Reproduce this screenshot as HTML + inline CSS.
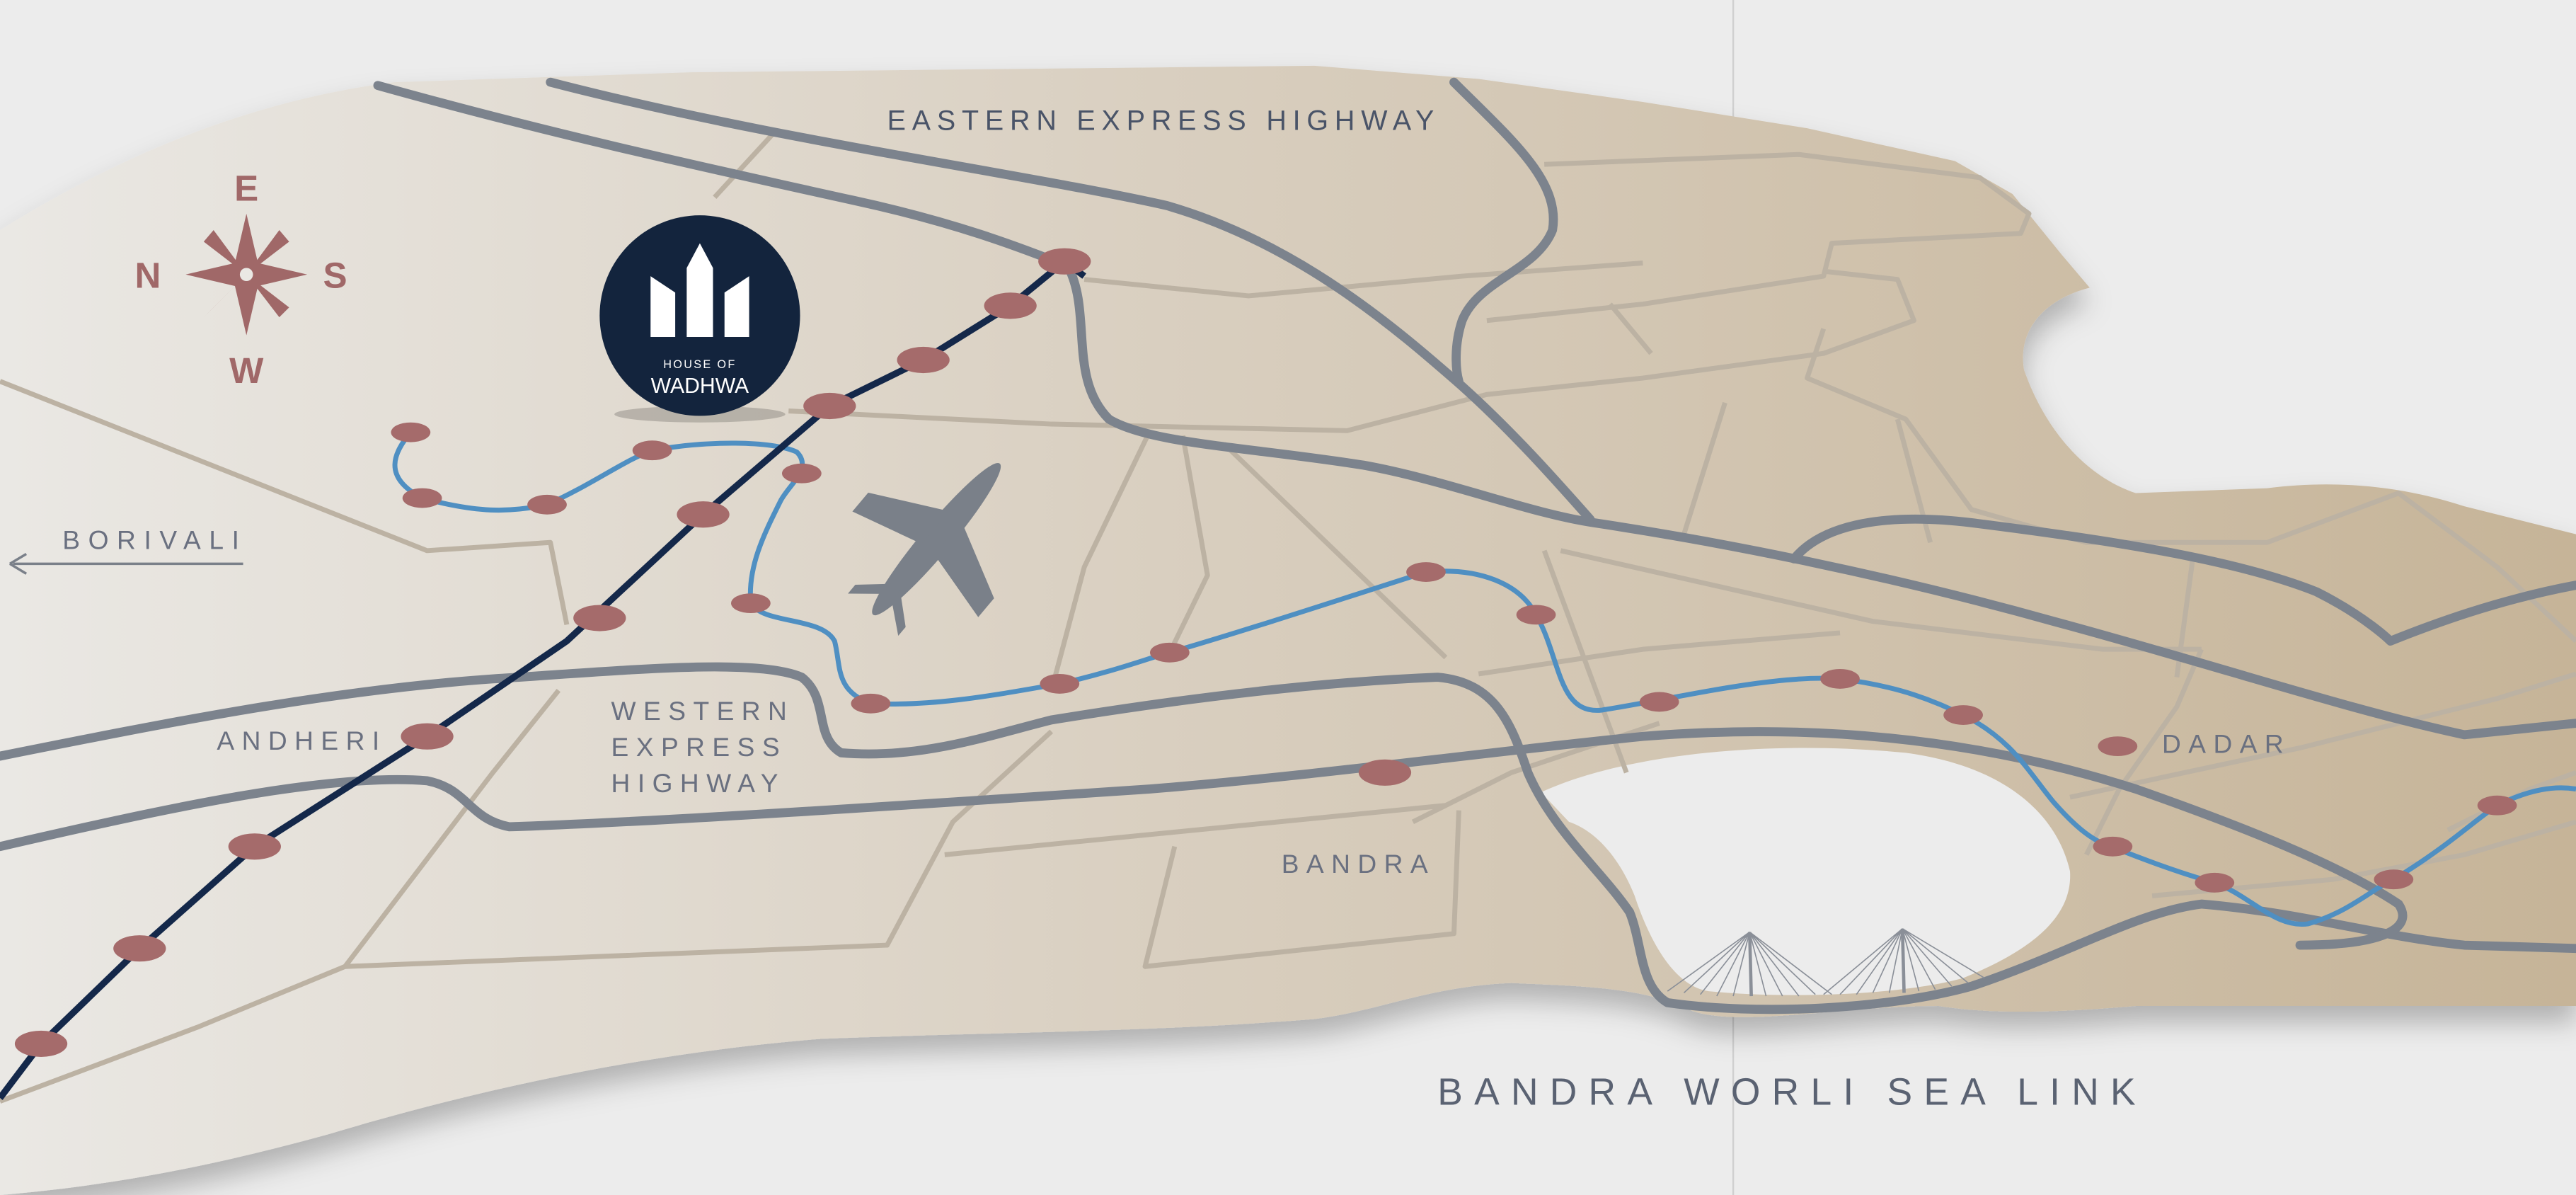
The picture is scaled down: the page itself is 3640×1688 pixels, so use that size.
<!DOCTYPE html>
<html><head><meta charset="utf-8"><style>
html,body{margin:0;padding:0;background:#ececec;}
svg{display:block;}
text{font-family:"Liberation Sans",sans-serif;}
</style></head><body>
<svg width="3640" height="1688" viewBox="0 0 1568 727" preserveAspectRatio="none" xmlns="http://www.w3.org/2000/svg">
<defs>
<linearGradient id="land" x1="0" x2="1" y1="0" y2="0">
<stop offset="0" stop-color="#eae8e4"/><stop offset="0.45" stop-color="#d9cfc0"/><stop offset="1" stop-color="#c6b498"/>
</linearGradient>
<filter id="sh" x="-5%" y="-5%" width="110%" height="120%"><feDropShadow dx="0" dy="10" stdDeviation="8" flood-color="#000" flood-opacity="0.25"/></filter>
</defs>
<rect width="1568" height="727" fill="#ececec"/>
<line x1="1055" y1="0" x2="1055" y2="727" stroke="#d0d0d0" stroke-width="1"/>
<path filter="url(#sh)" fill="url(#land)" d="M0,140 C80,90 160,60 240,50 L420,44 L800,40 L900,48 L1000,62 L1100,78 L1190,98 L1225,118 L1255,155 L1272,175 C1245,182 1228,200 1232,225 C1245,262 1270,290 1300,300 L1380,297 C1420,292 1460,295 1500,308 L1568,325 L1568,612 L1300,612 C1230,618 1200,615 1180,612 C1120,612 1060,625 1030,615 C1000,600 960,600 920,598 C870,600 840,615 800,620 C700,628 600,628 500,632 C400,640 300,660 200,690 C120,712 60,722 0,727 Z"/>
<path fill="#ececec" d="M938,482 C990,458 1080,450 1160,458 C1220,466 1252,495 1260,530 C1262,560 1232,580 1195,595 C1160,605 1090,608 1040,603 C1020,600 1005,575 995,545 C985,520 970,505 955,500 Z"/>
<g fill="none" stroke="#bcb2a3" stroke-width="3" stroke-linejoin="round">
<path d="M0,232 L260,335 L335,330 L345,380"/>
<path d="M0,670 L120,625 L210,588 L300,470 L340,420"/>
<path d="M210,588 L540,575 L580,500 L640,445"/>
<path d="M575,520 L880,490"/>
<path d="M715,515 L697,588 L885,568 L888,493"/>
<path d="M470,82 L435,120"/>
<path d="M480,250 L640,258 L820,262 L905,240 L1000,230 L1110,215 L1165,195 L1155,170 L1110,165"/>
<path d="M660,170 L760,180 L890,168 L1000,160"/>
<path d="M700,262 L660,345 L640,420"/>
<path d="M720,265 L735,350 L712,397"/>
<path d="M745,270 L880,400"/>
<path d="M905,195 L1000,185 L1110,168 L1115,148 L1230,142 L1235,130 L1205,108 L1095,94 L940,100"/>
<path d="M980,185 L1005,215"/>
<path d="M1110,200 L1100,230 L1160,255 L1200,310 L1270,330 L1380,330 L1460,300 L1520,345 L1568,390"/>
<path d="M1050,245 L1025,325"/>
<path d="M1155,255 L1175,330"/>
<path d="M940,335 L990,470"/>
<path d="M950,335 L1140,378 L1280,395 L1340,395"/>
<path d="M900,410 L1000,395 L1120,385"/>
<path d="M860,500 L920,470 L1010,440"/>
<path d="M1340,395 L1325,430 L1290,480 L1270,520"/>
<path d="M1335,338 L1325,412"/>
<path d="M1260,485 L1400,455 L1520,425 L1568,410"/>
<path d="M1490,505 L1540,480 L1568,470"/>
<path d="M1310,545 L1420,535 L1500,520 L1568,500"/>
</g>
<g fill="none" stroke="#7c838d" stroke-width="5.5" stroke-linecap="round" stroke-linejoin="round">
<path d="M230,52 C330,80 420,100 520,122 C580,135 620,150 650,162 C665,190 650,230 675,255 C700,270 760,272 830,283 C880,292 930,312 970,318 C1050,330 1150,350 1250,378 C1350,405 1430,432 1500,447 L1568,440"/>
<path d="M335,50 C470,85 620,105 710,125 C790,148 850,200 890,235 C920,262 945,290 968,316"/>
<path d="M885,50 C920,85 950,110 945,140 C935,165 900,170 890,195 C885,210 886,225 888,232"/>
<path d="M0,460 C100,440 200,420 300,413 C380,408 460,400 488,412 C505,425 495,448 512,458 C560,462 600,448 640,438 C720,425 800,415 875,412 C910,415 920,440 930,470 C945,505 975,530 992,555 C1000,575 998,600 1015,610 C1070,618 1150,614 1200,600 C1260,580 1300,555 1340,550 C1400,555 1450,570 1500,575 L1568,577"/>
<path d="M0,515 C100,492 200,470 260,475 C285,480 285,498 310,503 C400,500 550,490 700,480 C800,472 900,458 1000,448 C1100,440 1200,448 1300,480 C1380,508 1430,530 1460,550 C1470,565 1450,575 1400,575"/>
<path d="M1092,340 C1110,318 1150,312 1200,318 C1280,328 1360,340 1410,360 C1440,375 1455,390 1455,390 C1480,380 1520,365 1568,356"/>
</g>
<g stroke="#8a8f98" stroke-width="0.7" fill="none">
<path d="M1065,567 L1015,603 M1065,567 L1025,604 M1065,567 L1035,605 M1065,567 L1045,606 M1065,567 L1055,606 M1065,567 L1075,606 M1065,567 L1085,606 M1065,567 L1095,606 M1065,567 L1105,605 M1065,567 L1115,605"/>
<path d="M1158,565 L1110,605 M1158,565 L1120,605 M1158,565 L1130,605 M1158,565 L1140,604 M1158,565 L1150,604 M1158,565 L1168,603 M1158,565 L1178,602 M1158,565 L1188,600 M1158,565 L1198,598 M1158,565 L1208,595"/>
<path d="M1065,567 L1066,606 M1158,565 L1159,604" stroke-width="2"/>
</g>
<path fill="none" stroke="#4f8fc2" stroke-width="3" stroke-linejoin="round" d="M250,263 C240,275 232,290 257,303 C290,312 310,312 333,307 C360,295 380,280 397,274 C430,268 470,268 485,275 C495,285 480,295 475,305 C465,325 455,345 457,367 C465,380 500,375 508,390 C512,405 508,420 530,428 C570,430 610,422 645,416 C680,408 700,400 712,397 C770,380 830,360 868,348 C900,345 925,355 935,374 C950,400 948,435 975,432 C1020,425 1080,410 1120,413 C1160,418 1180,428 1195,435 C1225,450 1235,470 1250,488 C1265,505 1275,512 1285,515 C1310,525 1330,532 1348,537 C1370,545 1385,565 1405,562 C1430,555 1445,540 1457,535 C1490,515 1505,500 1520,490 C1540,480 1555,478 1568,480"/>
<path fill="none" stroke="#14284a" stroke-width="4" d="M0,668 L25,635 L85,577 L155,515 L260,448 L345,390 L428,313 L505,247 L562,219 L615,186 L648,159 L660,168"/>
<g fill="#a56b6b">
<ellipse cx="25" cy="635" rx="16" ry="8"/><ellipse cx="85" cy="577" rx="16" ry="8"/><ellipse cx="155" cy="515" rx="16" ry="8"/><ellipse cx="260" cy="448" rx="16" ry="8"/><ellipse cx="365" cy="376" rx="16" ry="8"/><ellipse cx="428" cy="313" rx="16" ry="8"/><ellipse cx="505" cy="247" rx="16" ry="8"/><ellipse cx="562" cy="219" rx="16" ry="8"/><ellipse cx="615" cy="186" rx="16" ry="8"/><ellipse cx="648" cy="159" rx="16" ry="8"/>
<ellipse cx="843" cy="470" rx="16" ry="8"/>
<ellipse cx="250" cy="263" rx="12" ry="6"/><ellipse cx="257" cy="303" rx="12" ry="6"/><ellipse cx="333" cy="307" rx="12" ry="6"/><ellipse cx="397" cy="274" rx="12" ry="6"/><ellipse cx="488" cy="288" rx="12" ry="6"/><ellipse cx="457" cy="367" rx="12" ry="6"/><ellipse cx="530" cy="428" rx="12" ry="6"/><ellipse cx="645" cy="416" rx="12" ry="6"/><ellipse cx="712" cy="397" rx="12" ry="6"/><ellipse cx="868" cy="348" rx="12" ry="6"/><ellipse cx="935" cy="374" rx="12" ry="6"/><ellipse cx="1010" cy="427" rx="12" ry="6"/><ellipse cx="1120" cy="413" rx="12" ry="6"/><ellipse cx="1195" cy="435" rx="12" ry="6"/><ellipse cx="1289" cy="454" rx="12" ry="6"/><ellipse cx="1286" cy="515" rx="12" ry="6"/><ellipse cx="1348" cy="537" rx="12" ry="6"/><ellipse cx="1457" cy="535" rx="12" ry="6"/><ellipse cx="1520" cy="490" rx="12" ry="6"/>
</g>
<g fill="#7a8089" transform="translate(570,328) rotate(-50)">
<ellipse cx="0" cy="0" rx="60" ry="9"/>
<path d="M-8,-5 L-20,-50 L-5,-50 L18,-5 Z"/>
<path d="M-8,5 L-20,50 L-5,50 L18,5 Z"/>
<path d="M-46,-3 L-60,-20 L-53,-20 L-38,-3 Z"/>
<path d="M-46,3 L-60,20 L-53,20 L-38,3 Z"/>
</g>
<ellipse cx="426" cy="252" rx="52" ry="5" fill="#000" opacity="0.18"/>
<circle cx="426" cy="192" r="61" fill="#13243d"/>
<g fill="#fff">
<path d="M396,168 L411,178 L411,205 L396,205 Z"/>
<path d="M418,163 L426,148 L434,163 L434,205 L418,205 Z"/>
<path d="M456,168 L441,178 L441,205 L456,205 Z"/>
</g>
<text x="426" y="224" font-size="7" fill="#fff" text-anchor="middle" letter-spacing="1">HOUSE OF</text>
<text x="426" y="239" font-size="13" fill="#fff" text-anchor="middle">WADHWA</text>
<g fill="#a06868">
<path d="M150,130 L157,160 L187,167 L157,174 L150,204 L143,174 L113,167 L143,160 Z"/>
<path d="M150,167 L170,140 L176,147 Z M150,167 L176,187 L170,193 Z M150,167 L124,193 L130,187 Z M150,167 L124,147 L130,140 Z"/>
<circle cx="150" cy="167" r="4" fill="#eae8e4"/>
<text x="150" y="122" font-size="22" font-weight="bold" text-anchor="middle">E</text>
<text x="90" y="175" font-size="22" font-weight="bold" text-anchor="middle">N</text>
<text x="204" y="175" font-size="22" font-weight="bold" text-anchor="middle">S</text>
<text x="150" y="233" font-size="22" font-weight="bold" text-anchor="middle">W</text>
</g>
<g fill="#4a5468">
<text x="540" y="79" font-size="17" letter-spacing="3.8">EASTERN EXPRESS HIGHWAY</text>
<text x="38" y="334" font-size="16" letter-spacing="5" fill="#6a7080">BORIVALI</text>
<text x="132" y="456" font-size="16" letter-spacing="4.5" fill="#6a7080">ANDHERI</text>
<text x="372" y="438" font-size="16" letter-spacing="4.5" fill="#6a7080">WESTERN</text>
<text x="372" y="460" font-size="16" letter-spacing="4.5" fill="#6a7080">EXPRESS</text>
<text x="372" y="482" font-size="16" letter-spacing="4.5" fill="#6a7080">HIGHWAY</text>
<text x="780" y="531" font-size="16" letter-spacing="4.5" fill="#6a7080">BANDRA</text>
<text x="1316" y="458" font-size="16" letter-spacing="4.5" fill="#6a7080">DADAR</text>
<text x="875" y="672" font-size="23" letter-spacing="7" fill="#5a6272">BANDRA WORLI SEA LINK</text>
</g>
<line x1="8" y1="343" x2="148" y2="343" stroke="#7a8089" stroke-width="1.5"/>
<path d="M6,343 L16,337 M6,343 L16,349" stroke="#7a8089" stroke-width="1.5" fill="none"/>
</svg>
</body></html>
